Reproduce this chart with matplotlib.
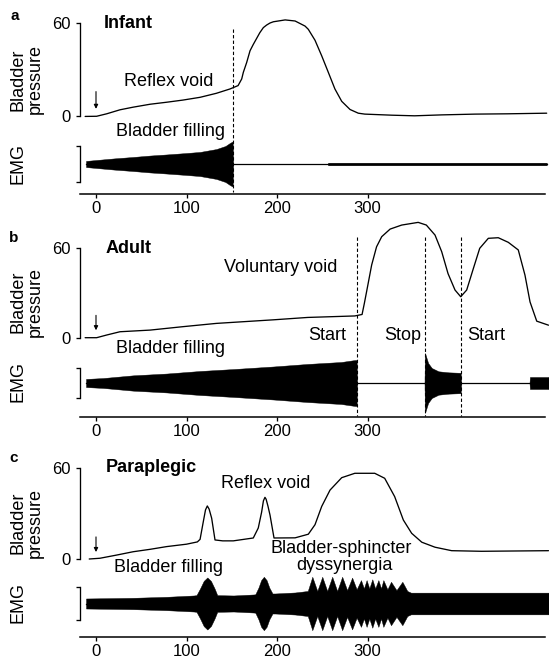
import matplotlib
matplotlib.use("Agg")
import matplotlib.pyplot as plt
from matplotlib.lines import Line2D
from matplotlib.transforms import blended_transform_factory

plt.rcParams['font.family'] = ['Liberation Sans', 'DejaVu Sans']

# ------------------------------------------------------------------ data
time_ticks = [0, 100, 200, 300]
pressure_ticks = [0, 60]

infant_t = [-12, 0.7, 11.8, 26.5, 41, 59.7, 78, 96, 115, 133, 148, 157, 161, 162.8,
            166.5, 170.2, 173.7, 181, 184.9, 188.6, 192.3, 196, 209, 220, 231,
            234.6, 242, 249.4, 256.7, 264, 271.5, 280.7, 289.8, 297, 327, 352, 382,
            419, 455, 498]
infant_p = [-0.6, -0.5, 1.1, 3.7, 5.4, 7.3, 8.6, 10, 11.8, 14.4, 17.2, 19.4, 23.7, 28,
            34.4, 42, 46, 53.7, 57, 58.7, 60, 60.8, 62, 61.3, 58,
            55.9, 48.8, 38.7, 28, 17.2, 9.2, 3.9, 1.5, 0.9, 0.2, -0.2, 0.4,
            0.9, 1.1, 1.5]
infant_emg_t = [-11, 0, 20, 41, 60, 78, 100, 115, 133, 143, 148, 151,
                151.5, 256, 256.5, 498]
infant_emg_amp = [0.17, 0.22, 0.31, 0.39, 0.47, 0.53, 0.61, 0.67, 0.83, 1.0, 1.17, 1.25,
                  0, 0, 0.07, 0.07]
infant_events = [151]

adult_t = [-12, 0.7, 11.8, 26.5, 59.7, 96, 133, 196, 234, 286, 294, 296.5, 299, 304.6,
           310, 315.7, 325, 337.8, 356, 365, 374.6, 382, 389, 396.7, 403, 409.6, 417,
           424, 433.5, 444.5, 455.6, 466.6, 474, 479.6, 487, 500]
adult_p = [0, 0, 1.8, 4, 5.1, 7.4, 9.6, 12.0, 13.6, 14.6, 15.6, 23, 30.9, 48.8,
           61, 67.8, 72.9, 75.6, 77.4, 75.6, 68.9, 57.7, 43, 32, 27.5, 32, 46.5,
           60, 66.7, 67.1, 64, 58.9, 42, 24, 11.1, 8.4]
adult_emg_t = [-11, 8, 41, 78, 115, 152, 196, 234, 271, 286, 288,
               288.5, 363, 363.5, 367, 371, 378.5, 389.6, 402.5, 403,
               403.5, 479, 479.5, 500]
adult_emg_amp = [0.27, 0.33, 0.51, 0.63, 0.8, 0.93, 1.1, 1.27, 1.4, 1.53, 1.53,
                 0, 0, 2.0, 1.33, 1.0, 0.78, 0.71, 0.68, 0.68,
                 0, 0, 0.4, 0.4]
adult_events = [288, 363.5, 403]

para_t = [-7.5, 4.4, 22.8, 41, 59.7, 78, 100, 112, 115, 118.6, 121, 123, 125, 127.8,
          131.5, 140, 151.7, 173.8, 179.3, 183, 185, 186.7, 188, 190, 192.3, 196.7, 220,
          234.6, 242, 249.4, 258.6, 271.5, 286, 308, 319, 330, 339.6, 348.8, 360,
          374.6, 393, 426, 500]
para_p = [0, 0.5, 2.6, 4.8, 6.4, 8.2, 9.8, 11.3, 13, 24.8, 32.5, 35.1, 33, 27,
          12.6, 12, 12, 13.9, 20.5, 31, 38.5, 40.8, 39.5, 35, 29, 13.9, 14,
          16.4, 22.7, 34.8, 45.6, 53.8, 56.7, 56.7, 53.4, 41.3, 25.8, 17, 11.1,
          7.8, 5.5, 5.1, 5.5]
para_emg_t = [-11, 41, 78, 108, 111, 115, 119, 123, 127, 131, 134, 152, 174,
              176, 179.5, 182.5, 185.5, 188.5, 191.5, 195, 198, 220, 234,
              239, 244.5, 250, 255.5, 261, 266.5, 272, 277.5, 283, 288, 292.8, 296,
              299, 302, 305.3, 308.5, 312, 315, 317.5, 322, 326, 332, 338.5,
              344, 348, 500]
para_emg_amp = [0.3, 0.34, 0.4, 0.48, 0.5, 0.9, 1.35, 1.56, 1.35, 0.9, 0.5, 0.48, 0.54,
                0.55, 0.95, 1.4, 1.6, 1.4, 0.95, 0.6, 0.6, 0.66, 0.75,
                1.6, 0.75, 1.6, 0.75, 1.6, 0.75, 1.6, 0.8, 1.55, 0.85, 1.4, 0.9,
                1.4, 0.9, 1.45, 0.9, 1.4, 0.9, 1.4, 0.85, 1.3, 0.8, 1.3,
                0.75, 0.65, 0.65]

# ------------------------------------------------------------------ layout (pixels)
W, H = 549, 660
fig = plt.figure(figsize=(W / 100, H / 100), dpi=100)

X0_PX = 96.0          # pixel of t = 0
X_SCALE = 0.905       # pixels per time unit
AX_LEFT, AX_RIGHT = 80.0, 549.0
XLIM = ((AX_LEFT - X0_PX) / X_SCALE, (AX_RIGHT - X0_PX) / X_SCALE)
XAXIS_END = (545.0 - X0_PX) / X_SCALE

LW = 0.95
FS = 13
TFS = 12


def px_axes(left, top, right, bottom):
    ax = fig.add_axes([left / W, 1 - bottom / H, (right - left) / W, (bottom - top) / H])
    ax.set_facecolor('none')
    return ax


def fx(x):
    return x / W


def fy(y):
    return 1 - y / H


panels = [
    dict(letter='a', title='Infant', t=infant_t, p=infant_p,
         et=infant_emg_t, ea=infant_emg_amp, events=infant_events,
         zero=115.5, sixty=23.0, ec=164.0, eh=18.0, axis=194.3,
         dash=(29.0, 192.0), letter_xy=(15, 16), title_xy=(104, 28),
         arrow=(15.5, 4.3)),
    dict(letter='b', title='Adult', t=adult_t, p=adult_p,
         et=adult_emg_t, ea=adult_emg_amp, events=adult_events,
         zero=337.7, sixty=248.3, ec=383.0, eh=15.0, axis=416.7,
         dash=(236.7, 416.0), letter_xy=(14, 238), title_xy=(106, 253),
         arrow=(15.0, 5.0)),
    dict(letter='c', title='Paraplegic', t=para_t, p=para_p,
         et=para_emg_t, ea=para_emg_amp, events=[],
         zero=559.0, sixty=468.3, ec=603.5, eh=16.7, axis=636.7,
         dash=None, letter_xy=(14, 458), title_xy=(106, 472),
         arrow=(14.6, 4.6)),
]

for pn in panels:
    # ---------------- pressure axes
    s = (pn['zero'] - pn['sixty']) / 60.0
    top_px = pn['sixty'] - 45
    bot_px = pn['zero'] + 12
    axp = px_axes(AX_LEFT, top_px, AX_RIGHT, bot_px)
    axp.set_xlim(*XLIM)
    axp.set_ylim((pn['zero'] - bot_px) / s, (pn['zero'] - top_px) / s)
    axp.plot(pn['t'], pn['p'], color='black', lw=LW, solid_capstyle='round',
             solid_joinstyle='round')
    for k in ('top', 'right', 'bottom'):
        axp.spines[k].set_visible(False)
    axp.spines['left'].set_bounds(0, 60)
    axp.spines['left'].set_linewidth(LW)
    axp.set_xticks([])
    axp.set_yticks(pressure_ticks)
    axp.set_yticklabels([str(v) for v in pressure_ticks])
    axp.tick_params(axis='y', direction='out', length=3, width=LW, pad=4, labelsize=TFS)
    # arrow marking start of filling
    axp.annotate('', xy=(0, pn['arrow'][1]), xytext=(0, pn['arrow'][0]),
                 arrowprops=dict(arrowstyle='-|>', lw=0.8, color='black',
                                 mutation_scale=6, shrinkA=0, shrinkB=0))

    # ---------------- EMG axes
    etop = pn['ec'] - 2.2 * pn['eh']
    axe = px_axes(AX_LEFT, etop, AX_RIGHT, pn['axis'])
    axe.set_xlim(*XLIM)
    axe.set_ylim((pn['ec'] - pn['axis']) / pn['eh'], (pn['ec'] - etop) / pn['eh'])
    neg = [-a for a in pn['ea']]
    axe.fill_between(pn['et'], neg, pn['ea'], color='black', lw=0.3, edgecolor='black')
    axe.plot([pn['et'][0], pn['et'][-1]], [0, 0], color='black', lw=0.9)
    for k in ('top', 'right'):
        axe.spines[k].set_visible(False)
    axe.spines['left'].set_bounds(-1, 1)
    axe.spines['left'].set_linewidth(LW)
    axe.spines['bottom'].set_bounds(XLIM[0], XAXIS_END)
    axe.spines['bottom'].set_linewidth(1.1)
    axe.set_yticks([-1, 1])
    axe.set_yticklabels(['', ''])
    axe.tick_params(axis='y', direction='out', length=3, width=LW)
    axe.set_xticks(time_ticks)
    axe.set_xticklabels([str(v) for v in time_ticks])
    axe.tick_params(axis='x', direction='out', length=3, width=LW, pad=2, labelsize=TFS)

    # ---------------- dashed event lines
    if pn['dash'] is not None:
        tr = blended_transform_factory(axp.transData, fig.transFigure)
        for ev in pn['events']:
            fig.add_artist(Line2D([ev, ev], [fy(pn['dash'][0]), fy(pn['dash'][1])],
                                  transform=tr, color='black', lw=0.8,
                                  linestyle=(0, (3, 2))))

    # ---------------- labels
    fig.text(fx(pn['letter_xy'][0]), fy(pn['letter_xy'][1]), pn['letter'],
             fontsize=11, fontweight='bold', ha='center', va='center')
    fig.text(fx(pn['title_xy'][0]), fy(pn['title_xy'][1]), pn['title'],
             fontsize=FS, fontweight='bold', ha='left', va='baseline')
    ymid = pn['zero'] - 36
    fig.text(fx(18.5), fy(ymid), 'Bladder', rotation=90, fontsize=FS,
             ha='center', va='center')
    fig.text(fx(35.0), fy(ymid), 'pressure', rotation=90, fontsize=FS,
             ha='center', va='center')
    fig.text(fx(18.5), fy(pn['ec'] - 1), 'EMG', rotation=90, fontsize=FS,
             ha='center', va='center')

# annotations (pixel positions)
def note(x, y, s, ha='center'):
    fig.text(fx(x), fy(y), s, fontsize=FS, ha=ha, va='baseline')

note(169, 86, 'Reflex void')
note(171, 136, 'Bladder filling')
note(281, 271.5, 'Voluntary void')
note(171, 353, 'Bladder filling')
note(327.5, 340, 'Start')
note(402.5, 340, 'Stop')
note(486.7, 340, 'Start')
note(266, 487.7, 'Reflex void')
note(169, 572, 'Bladder filling')
note(341, 553, 'Bladder-sphincter')
note(344, 570, 'dyssynergia')

fig.savefig('out.png', dpi=100)
